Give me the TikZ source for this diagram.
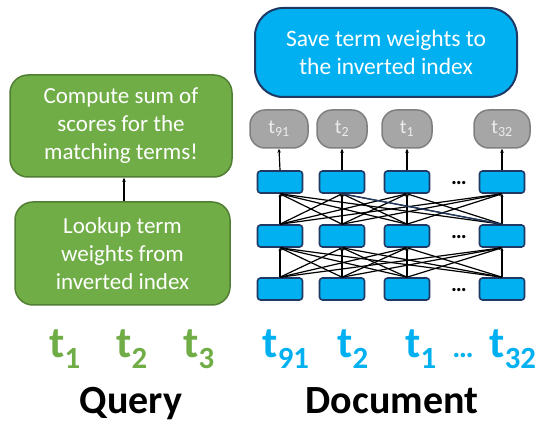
\documentclass[tikz,border=0pt]{standalone}
\usepackage{fontspec}
\setmainfont{Carlito}
\usetikzlibrary{arrows.meta}
\definecolor{qgreen}{HTML}{70AD47}
\definecolor{qgreendark}{HTML}{507E32}
\definecolor{dblue}{HTML}{00B0F0}
\definecolor{dbluedark}{HTML}{1F3864}
\definecolor{outgrey}{HTML}{A6A6A6}
\definecolor{outgreydark}{HTML}{7F7F7F}
\tikzset{
  greenbox/.style={draw=qgreendark,fill=qgreen,line width=1.5pt,rounded corners=18pt,
    text=white,align=center,font=\fontsize{23}{28}\selectfont},
  savebox/.style={draw=dbluedark,fill=dblue,line width=2pt,rounded corners=28pt,
    text=white,align=center,font=\fontsize{23.5}{28}\selectfont,
    minimum width=262pt,minimum height=89pt},
  cell/.style={draw=dbluedark,fill=dblue,line width=1.6pt,rounded corners=3pt,
    minimum width=45pt,minimum height=22pt,inner sep=0pt},
  outtok/.style={draw=outgreydark,fill=outgrey,line width=1.5pt,rounded corners=15pt,
    minimum height=38pt,inner sep=0pt,text=white!85!gray,font=\fontsize{20}{20}\selectfont},
  qtok/.style={anchor=base,text=qgreen,font=\fontsize{44}{44}\selectfont\bfseries},
  dtok/.style={anchor=base,text=dblue,font=\fontsize{44}{44}\selectfont\bfseries},
  side/.style={anchor=base,font=\fontsize{40}{40}\selectfont\bfseries},
  meshline/.style={line width=1.2pt,-{Stealth[length=3pt,width=3pt]}},
  uparrow/.style={line width=1.2pt,-{Stealth[length=4pt,width=3.5pt]}}
}

\begin{document}
\begin{tikzpicture}[x=1pt,y=-1pt]
  \useasboundingbox (0,0) rectangle (539,433);
  % query side
  \node[greenbox,minimum width=222pt,minimum height=102pt] (compute) at (121,126)
    {Compute sum of\\scores for the\\matching terms!};
  \node[greenbox,minimum width=215pt,minimum height=103pt] (lookup) at (122.5,253.5)
    {Lookup term\\weights from\\inverted index};
  \draw[uparrow] (lookup.north -| 124,0) -- (compute.south -| 124,0);
  \node[qtok] (q1) at (65,357) {t\textsubscript{1}};
  \node[qtok] (q2) at (132,357) {t\textsubscript{2}};
  \node[qtok] (q3) at (199,357) {t\textsubscript{3}};
  \node[side] (query) at (131,413) {Query};
  % document side
  \node[savebox] (save) at (386,52.5) {Save term weights to\\the inverted index};
  \node[outtok,minimum width=58pt] (o1) at (279,129) {t\textsubscript{91}};
  \node[outtok,minimum width=50pt] (o2) at (342,129) {t\textsubscript{2}};
  \node[outtok,minimum width=50pt] (o3) at (407,129) {t\textsubscript{1}};
  \node[outtok,minimum width=56pt] (o4) at (502,129) {t\textsubscript{32}};
  \foreach \r/\y in {a/182,b/236,c/289}{
    \node[cell] (\r1) at (280,\y) {};
    \node[cell] (\r2) at (342,\y) {};
    \node[cell] (\r3) at (407,\y) {};
    \node[cell] (\r4) at (502,\y) {};
    \node[font=\fontsize{22}{22}\selectfont\bfseries,anchor=base] (\r dots) at (459,\y+3) {\dots};
  }
  \foreach \lo/\hi in {c/b,b/a}
    \foreach \i in {1,...,4}
      \foreach \j in {1,...,4}
        \draw[meshline] (\lo\i.north) -- (\hi\j.south);
  \draw[meshline,draw=dbluedark] (b4.north) -- (a2.south);
  \foreach \i in {1,...,4}
    \draw[uparrow] (a\i.north) -- (o\i.south);
  \node[dtok] (d1) at (286,357) {t\textsubscript{91}};
  \node[dtok] (d2) at (353,357) {t\textsubscript{2}};
  \node[dtok] (d3) at (421,357) {t\textsubscript{1}};
  \node[dtok,font=\fontsize{30}{30}\selectfont\bfseries] (ddots) at (463,357) {\dots};
  \node[dtok] (d4) at (513,357) {t\textsubscript{32}};
  \node[side] (document) at (392,413) {Document};
\end{tikzpicture}
\end{document}
